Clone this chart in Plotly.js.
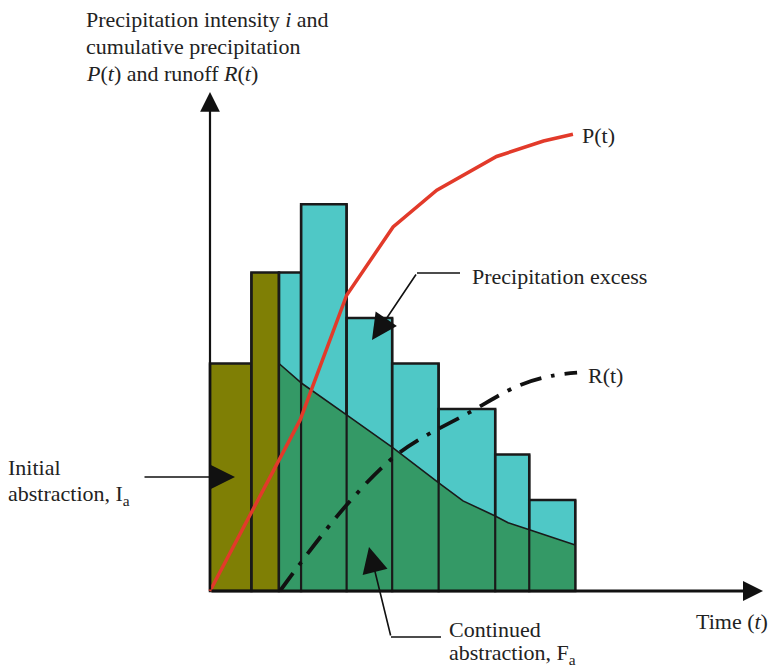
<!DOCTYPE html>
<html><head><meta charset="utf-8">
<script src="https://cdn.plot.ly/plotly-3.0.1.min.js"></script>
<style>html,body{margin:0;padding:0;background:#fff}#chart{width:768px;height:668px}</style>
</head><body><div id="chart"></div>
<script>
// ---- data (time units, intensity units) ----
const barEdges = [0, 0.9, 1.5, 1.98, 2.97, 3.96, 4.97, 6.2, 6.94, 7.94];
const intensity = [5.0, 7.0, 7.0, 8.5, 6.0, 5.0, 4.0, 3.0, 2.0];
const barPart = ['initial', 'initial', 'excess', 'excess', 'excess', 'excess', 'excess', 'excess', 'excess'];
const lossT = [1.5, 2.0, 3.0, 3.95, 4.98, 5.5, 6.2, 6.48, 6.96, 7.94];
const lossF = [5.0, 4.56, 3.85, 3.17, 2.37, 1.98, 1.65, 1.5, 1.34, 1.01];
const precipT = [0, 1.96, 2.97, 3.98, 4.93, 6.23, 7.25, 7.89];
const precipP = [0, 3.76, 6.5, 8.0, 8.81, 9.55, 9.89, 10.04];
const runoffT = [1.52, 2.97, 4.13, 5.65, 6.70, 7.43, 7.98];
const runoffR = [0, 1.89, 3.05, 3.93, 4.51, 4.73, 4.80];

// ---- layout helpers (pixel placement of the sketch) ----
const OX = 210, OY = 591, SX = 46, SY = 45.5, W = 768, H = 668;
const X = px => (px - OX) / SX;
const Y = py => (OY - py) / SY;

const colors = {initial: '#7f7f05', excess: '#4fc8c6', loss: '#349966'};
const centers = intensity.map((_, i) => (barEdges[i] + barEdges[i + 1]) / 2);
const widths = intensity.map((_, i) => barEdges[i + 1] - barEdges[i]);

// vertical bar edges redrawn above the green area
const edgeX = [], edgeY = [];
barEdges.forEach((e, i) => {
  const hl = i > 0 ? intensity[i - 1] : 0;
  const hr = i < intensity.length ? intensity[i] : 0;
  edgeX.push(e, e, null); edgeY.push(0, Math.max(hl, hr), null);
});

const traces = [
  {type: 'bar', x: centers, y: intensity, width: widths,
   marker: {color: barPart.map(k => colors[k]), line: {color: '#1a1a1a', width: 2.5}},
   hoverinfo: 'skip', showlegend: false},
  {type: 'scatter', mode: 'lines', x: lossT, y: lossF, fill: 'tozeroy',
   fillcolor: colors.loss, line: {color: '#1a1a1a', width: 1.6}, hoverinfo: 'skip', showlegend: false},
  {type: 'scatter', mode: 'lines', x: edgeX, y: edgeY,
   line: {color: '#1a1a1a', width: 2.2}, hoverinfo: 'skip', showlegend: false},
  {type: 'scatter', mode: 'lines', x: precipT, y: precipP,
   line: {color: '#e23a2a', width: 3.5}, hoverinfo: 'skip', showlegend: false},
  {type: 'scatter', mode: 'lines', x: runoffT, y: runoffR,
   line: {color: '#111', width: 3.8, dash: '22px,10px,4px,10px', shape: 'spline'},
   hoverinfo: 'skip', showlegend: false}
];

const font = {family: 'Liberation Serif, Times New Roman, serif', size: 22, color: '#222'};
const txt = (s, px, py) => ({text: s, x: X(px), y: Y(py), xref: 'x', yref: 'y',
  xanchor: 'left', yanchor: 'middle', showarrow: false, font: font});
const arrow = (tx, ty, hx, hy, w, size) => ({text: '', x: X(hx), y: Y(hy), ax: X(tx), ay: Y(ty),
  xref: 'x', yref: 'y', axref: 'x', ayref: 'y', showarrow: true, arrowhead: 2,
  arrowwidth: w, arrowsize: size, arrowcolor: '#111', standoff: 0, startstandoff: 0});

const annotations = [
  arrow(OX, OY, 763, OY, 3.2, 1.25),
  arrow(OX, OY, OX, 92, 2.2, 1.8),
  txt('Precipitation intensity <i>i</i> and', 84, 19),
  txt('cumulative precipitation', 84, 46),
  txt('<i>P</i>(<i>t</i>) and runoff <i>R</i>(<i>t</i>)', 84, 73),
  txt('P(t)', 580, 135),
  txt('Precipitation excess', 470, 276),
  txt('R(t)', 586, 375),
  txt('Initial', 6, 467),
  txt('abstraction, I<sub>a</sub>', 6, 495),
  txt('Continued', 447, 629),
  txt('abstraction, F<sub>a</sub>', 447, 654),
  txt('Time (<i>t</i>)', 694, 621),
  arrow(143, 477, 235, 477, 1.6, 3.2),
  arrow(417, 273, 372, 340, 1.6, 3.2),
  arrow(391, 637, 369, 547, 1.6, 3.2)
];

const shapes = [
  {type: 'line', xref: 'x', yref: 'y', x0: X(460), y0: Y(273), x1: X(417), y1: Y(273), line: {color: '#111', width: 1.6}},
  {type: 'line', xref: 'x', yref: 'y', x0: X(441), y0: Y(637), x1: X(391), y1: Y(637), line: {color: '#111', width: 1.6}}
];

const layout = {
  width: W, height: H, margin: {l: 0, r: 0, t: 0, b: 0},
  paper_bgcolor: '#fff', plot_bgcolor: '#fff', showlegend: false,
  xaxis: {range: [X(0), X(W)], visible: false, fixedrange: true},
  yaxis: {range: [Y(H), Y(0)], visible: false, fixedrange: true},
  annotations: annotations, shapes: shapes
};
Plotly.newPlot('chart', traces, layout, {displayModeBar: false, staticPlot: true});
</script></body></html>
